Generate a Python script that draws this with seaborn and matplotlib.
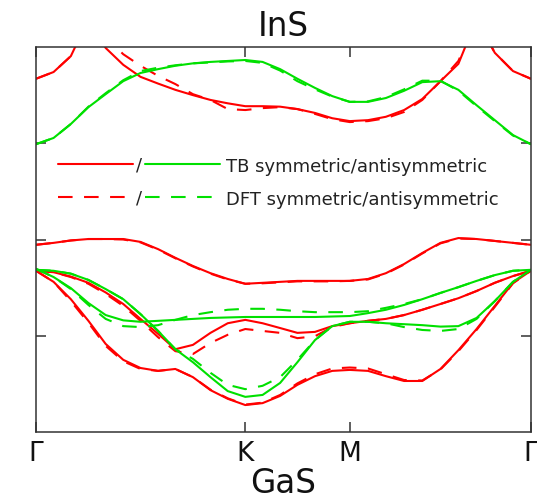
import numpy as np
import pandas as pd
import matplotlib
matplotlib.use("Agg")
import matplotlib.pyplot as plt
import seaborn as sns
from matplotlib.legend_handler import HandlerBase
from matplotlib.lines import Line2D
from matplotlib.text import Text

# ---------------- data ----------------
# k-path positions (units of 2*pi/a): Gamma -> K -> M -> Gamma
k = [0.000, 0.056, 0.111, 0.167, 0.222, 0.278, 0.333, 0.389, 0.444, 0.500,
     0.556, 0.611, 0.667, 0.722, 0.778, 0.833, 0.889, 0.944, 1.000, 1.058,
     1.115, 1.173, 1.231, 1.289, 1.346, 1.404, 1.462, 1.520, 1.577]
kticks = [0.0, 0.6667, 1.0, 1.5774]
klabels = ["Γ", "K", "M", "Γ"]

# conduction band, symmetric (red)
c1_tb = [3.34, 3.48, 3.81, 4.58, 3.98, 3.63, 3.38, 3.24, 3.11, 3.00, 2.90, 2.83, 2.77, 2.77, 2.76,
         2.71, 2.63, 2.52, 2.46, 2.48, 2.55, 2.69, 2.92, 3.29, 3.65, 4.58, 3.88, 3.50, 3.34]
c1_dft = [3.34, 3.48, 3.81, 4.58, 4.21, 3.85, 3.61, 3.40, 3.23, 3.02, 2.90, 2.71, 2.69, 2.73, 2.75,
          2.71, 2.61, 2.50, 2.44, 2.46, 2.52, 2.65, 2.90, 3.29, 3.71, 4.58, 3.88, 3.50, 3.34]
# conduction band, antisymmetric (green)
c2_tb = [1.98, 2.11, 2.40, 2.75, 3.02, 3.29, 3.46, 3.54, 3.61, 3.66, 3.69, 3.71, 3.73, 3.69, 3.54,
         3.34, 3.15, 2.98, 2.86, 2.86, 2.94, 3.09, 3.27, 3.29, 3.11, 2.79, 2.48, 2.17, 1.98]
c2_dft = [1.98, 2.11, 2.40, 2.76, 3.04, 3.31, 3.50, 3.57, 3.62, 3.66, 3.68, 3.70, 3.71, 3.67, 3.51,
          3.29, 3.12, 2.97, 2.86, 2.87, 2.96, 3.12, 3.30, 3.30, 3.09, 2.77, 2.46, 2.16, 1.98]
# top valence band, symmetric (red)
v1_tb = [-0.11, -0.07, -0.02, 0.01, 0.01, 0.01, -0.05, -0.20, -0.38, -0.55, -0.70, -0.82, -0.92, -0.90, -0.88,
         -0.86, -0.86, -0.86, -0.86, -0.82, -0.70, -0.51, -0.28, -0.07, 0.03, 0.01, -0.03, -0.07, -0.11]
v1_dft = [-0.11, -0.07, -0.02, 0.01, 0.01, 0.00, -0.06, -0.21, -0.39, -0.56, -0.71, -0.83, -0.92, -0.91, -0.89,
          -0.87, -0.87, -0.87, -0.86, -0.83, -0.71, -0.52, -0.29, -0.08, 0.02, 0.01, -0.03, -0.07, -0.11]
# valence bands, antisymmetric (green)
va_tb = [-0.61, -0.78, -1.01, -1.32, -1.57, -1.68, -1.71, -1.69, -1.67, -1.65, -1.63, -1.62, -1.61, -1.61, -1.61,
         -1.61, -1.61, -1.60, -1.59, -1.53, -1.46, -1.36, -1.24, -1.11, -0.99, -0.86, -0.74, -0.65, -0.63]
va_dft = [-0.61, -0.78, -1.03, -1.36, -1.65, -1.80, -1.82, -1.78, -1.67, -1.57, -1.51, -1.46, -1.44, -1.44, -1.46,
          -1.49, -1.51, -1.51, -1.51, -1.49, -1.42, -1.34, -1.24, -1.11, -0.99, -0.86, -0.74, -0.65, -0.63]
vb_tb = [-0.63, -0.65, -0.71, -0.84, -1.03, -1.24, -1.55, -1.90, -2.28, -2.55, -2.86, -3.15, -3.27, -3.23, -2.98,
         -2.55, -2.09, -1.80, -1.71, -1.71, -1.74, -1.76, -1.78, -1.81, -1.80, -1.63, -1.28, -0.88, -0.63]
vb_dft = [-0.63, -0.65, -0.71, -0.84, -1.03, -1.24, -1.55, -1.90, -2.28, -2.48, -2.77, -3.02, -3.11, -3.04, -2.86,
          -2.50, -2.09, -1.80, -1.71, -1.71, -1.74, -1.82, -1.88, -1.90, -1.86, -1.65, -1.28, -0.88, -0.63]
# valence bands, symmetric (red)
vc_tb = [-0.65, -0.88, -1.24, -1.69, -2.17, -2.50, -2.67, -2.73, -2.69, -2.86, -3.13, -3.31, -3.44, -3.40, -3.25,
         -3.02, -2.84, -2.73, -2.71, -2.73, -2.84, -2.94, -2.94, -2.69, -2.30, -1.86, -1.38, -0.90, -0.65]
vc_dft = [-0.65, -0.88, -1.28, -1.73, -2.21, -2.53, -2.69, -2.73, -2.69, -2.86, -3.12, -3.30, -3.43, -3.39, -3.23,
          -2.99, -2.80, -2.68, -2.66, -2.68, -2.80, -2.92, -2.93, -2.70, -2.32, -1.88, -1.40, -0.91, -0.65]
vd_tb = [-0.65, -0.68, -0.77, -0.90, -1.10, -1.34, -1.65, -1.96, -2.28, -2.19, -1.94, -1.74, -1.67, -1.74, -1.84,
         -1.94, -1.92, -1.80, -1.74, -1.69, -1.65, -1.57, -1.46, -1.34, -1.22, -1.07, -0.90, -0.76, -0.65]
vd_dft = [-0.65, -0.68, -0.78, -0.92, -1.13, -1.38, -1.69, -2.03, -2.32, -2.38, -2.15, -1.98, -1.86, -1.90, -1.94,
          -2.05, -2.01, -1.82, -1.74, -1.69, -1.65, -1.57, -1.46, -1.34, -1.22, -1.07, -0.90, -0.76, -0.65]

bands = [
    ("c1", "symmetric", c1_tb, c1_dft),
    ("c2", "antisymmetric", c2_tb, c2_dft),
    ("v1", "symmetric", v1_tb, v1_dft),
    ("va", "antisymmetric", va_tb, va_dft),
    ("vb", "antisymmetric", vb_tb, vb_dft),
    ("vc", "symmetric", vc_tb, vc_dft),
    ("vd", "symmetric", vd_tb, vd_dft),
]

rows = []
for name, parity, tb, dft in bands:
    for method, vals in (("TB", tb), ("DFT", dft)):
        for kk, e in zip(k, vals):
            rows.append({"k": kk, "E": e, "band": f"{name}_{method}",
                         "parity": parity, "method": method})
df = pd.DataFrame(rows)

# ---------------- style ----------------
RED = "#ff0000"
GREEN = "#00e000"
DASH = (7, 5.5)
sns.set_theme(style="white")
plt.rcParams["font.family"] = ["DejaVu Sans"]
FRAME = "#333333"

fig = plt.figure(figsize=(5.37, 5.02), dpi=100)
ax = fig.add_axes([36 / 537, 1 - 433 / 502, 495 / 537, 385 / 502])

sns.lineplot(data=df, x="k", y="E", hue="parity", style="method", units="band",
             estimator=None, sort=False,
             palette={"symmetric": RED, "antisymmetric": GREEN},
             dashes={"TB": "", "DFT": DASH}, style_order=["TB", "DFT"],
             linewidth=1.5, legend=False, ax=ax)

ax.set_xlim(kticks[0], kticks[-1])
ax.set_ylim(-4, 4)
ax.set_xticks(kticks)
ax.set_xticklabels(klabels)
ax.set_yticks([-2, 0, 2])
ax.set_yticklabels([])
ax.set_ylabel("")
ax.tick_params(direction="in", length=7, width=1.1, color=FRAME,
               top=True, right=True, bottom=True, left=True,
               labelsize=19, pad=6, labelcolor="#111111")
for s in ax.spines.values():
    s.set_color(FRAME)
    s.set_linewidth(1.1)
ax.set_title("InS", fontsize=23.5, pad=8.5, color="#111111")
ax.set_xlabel("GaS", fontsize=23.5, labelpad=0, color="#111111")


class PairHandler(HandlerBase):
    def create_artists(self, legend, orig_handle, xdescent, ydescent,
                       width, height, fontsize, trans):
        l1, l2 = orig_handle
        gap = 0.66 * fontsize
        y = height / 2 - ydescent
        x0 = -xdescent
        w1 = (width - gap) / 2
        a1 = Line2D([x0, x0 + w1], [y, y])
        a1.update_from(l1)
        a1.set_transform(trans)
        t = Text(x0 + w1 + gap / 2, y, "/", ha="center", va="center",
                 fontsize=fontsize, color="#222222")
        t.set_transform(trans)
        a2 = Line2D([x0 + w1 + gap, x0 + width], [y, y])
        a2.update_from(l2)
        a2.set_transform(trans)
        return [a1, t, a2]


r_tb = Line2D([], [], color=RED, lw=1.5, ls="-")
g_tb = Line2D([], [], color=GREEN, lw=1.5, ls="-")
r_dft = Line2D([], [], color=RED, lw=1.5, ls=(0, DASH))
g_dft = Line2D([], [], color=GREEN, lw=1.5, ls=(0, DASH))
leg = ax.legend(handles=[(r_tb, g_tb), (r_dft, g_dft)],
                labels=["TB symmetric/antisymmetric", "DFT symmetric/antisymmetric"],
                handler_map={tuple: PairHandler()},
                loc="upper left", bbox_to_anchor=(0.044, 0.715),
                frameon=False, fontsize=13, handlelength=9, handletextpad=0.3,
                labelspacing=0.82, borderpad=0, borderaxespad=0)
for t in leg.get_texts():
    t.set_color("#222222")

fig.savefig("out.png", dpi=100)
